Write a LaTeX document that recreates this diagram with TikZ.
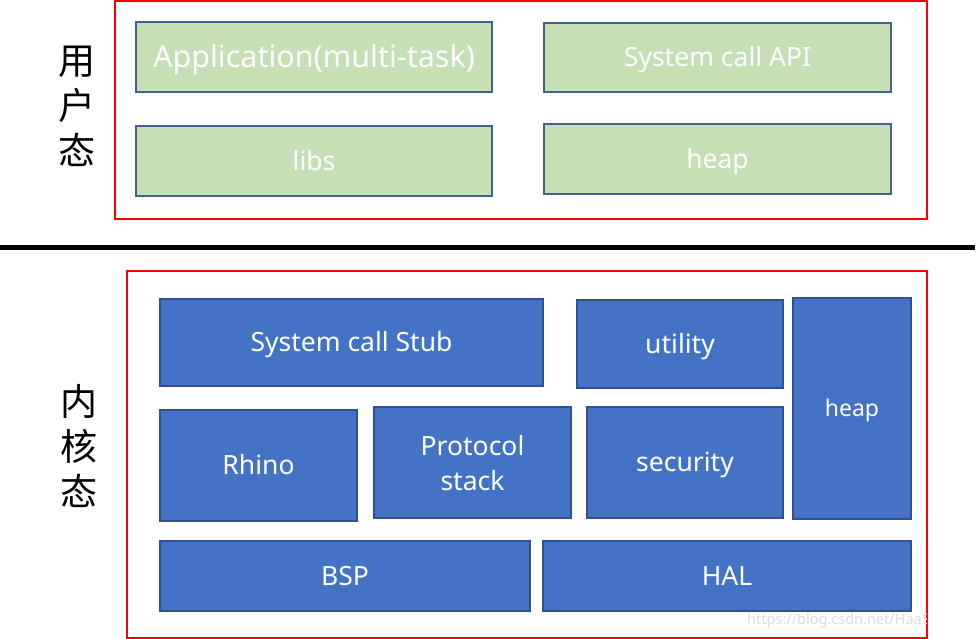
\documentclass[tikz,border=0pt]{standalone}
\usepackage{fontspec}
\setmainfont{Noto Sans}
\newfontfamily\cjk{Noto Sans CJK SC}
\definecolor{gfill}{HTML}{C5E0B4}
\definecolor{bfill}{HTML}{4472C4}
\definecolor{bline}{HTML}{2F528F}
\definecolor{gline}{HTML}{41608F}
\definecolor{wmark}{HTML}{DADADA}
\begin{document}
\begin{tikzpicture}[x=1pt,y=-1pt,
  greenbox/.style={draw=gline,line width=1.5pt,fill=gfill,text=white,inner sep=0pt,align=center,font=\fontsize{26.5}{32}\selectfont,text height=18.9pt,text depth=0pt},
  bluebox/.style={draw=bline,line width=1.2pt,fill=bfill,text=white,inner sep=0pt,align=center,font=\fontsize{26.5}{35}\selectfont,text height=18.9pt,text depth=0pt},
  redframe/.style={draw=red,line width=1.5pt,inner sep=0pt},
  vlabel/.style={align=center,font=\cjk\fontsize{37}{45}\selectfont,inner sep=0pt}]
\useasboundingbox (0,0) rectangle (977,639);
% frames
\node[redframe,minimum width=812pt,minimum height=218pt] (ured) at (521,110) {};
\node[redframe,minimum width=800pt,minimum height=367pt] (kred) at (527,454.5) {};
\coordinate (sepL) at (0,247.5);
\coordinate (sepR) at (975,247.5);
\draw[line width=5pt] (sepL) -- (sepR);
% labels
\node[vlabel] (ulabel) at (77,106.5) {用\\户\\态};
\node[vlabel] (klabel) at (79,446.5) {内\\核\\态};
% user space
\node[greenbox,minimum width=356pt,minimum height=70pt,font=\fontsize{30.5}{36}\selectfont,text height=21.8pt] (app) at (314,57) {Application(multi-task)};
\node[greenbox,minimum width=347pt,minimum height=69pt] (sca) at (717.5,57.5) {System call API};
\node[greenbox,minimum width=356pt,minimum height=70pt] (libs) at (314,161) {libs};
\node[greenbox,minimum width=347pt,minimum height=70pt] (uheap) at (717.5,159) {heap};
% kernel space
\node[bluebox,minimum width=383pt,minimum height=87pt] (scs) at (351.5,342.5) {System call Stub};
\node[bluebox,minimum width=206pt,minimum height=88pt] (util) at (680,344) {utility};
\node[bluebox,minimum width=118pt,minimum height=221pt,font=\fontsize{23}{28}\selectfont,text height=16.4pt] (kheap) at (852,408.5) {heap};
\node[bluebox,minimum width=197pt,minimum height=111pt] (rhino) at (258.5,465.5) {Rhino};
\node[bluebox,minimum width=197pt,minimum height=111pt,text height=56pt] (proto) at (472.5,462.5) {Protocol\\stack};
\node[bluebox,minimum width=196pt,minimum height=111pt] (sec) at (685,462.5) {security};
\node[bluebox,minimum width=370pt,minimum height=70pt] (bsp) at (345,576) {BSP};
\node[bluebox,minimum width=368pt,minimum height=70pt] (hal) at (727,576) {HAL};
% watermark
\begin{scope}
\clip (740,605) rectangle (926,637);
\node[anchor=west,text=wmark,font=\fontsize{14.5}{16}\selectfont,inner sep=0pt] (wm) at (747,621) {https://blog.csdn.net/HaaSTech};
\end{scope}
\end{tikzpicture}
\end{document}
